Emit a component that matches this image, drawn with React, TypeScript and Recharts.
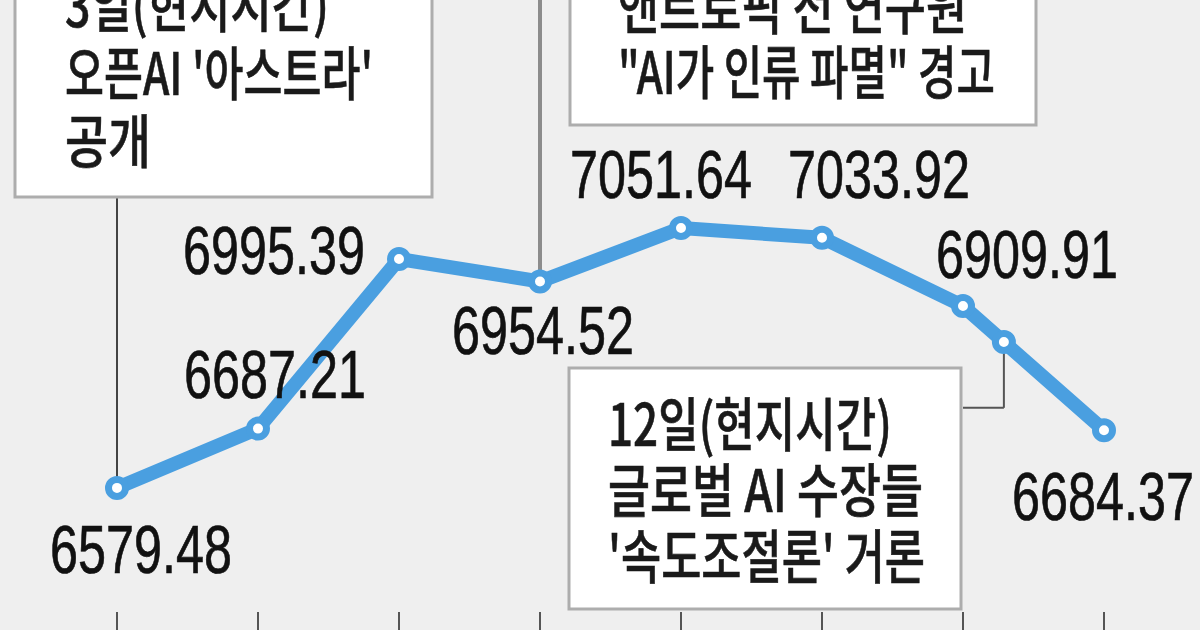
import { LineChart, Line, XAxis, YAxis, ReferenceLine, ReferenceDot } from 'recharts';

// trading days shown on the chart (x ticks, labels cropped in the original)
const dayIndex = [0, 1, 2, 3, 4, 5, 6, 7];
// closing values of the index
const indexValues = [6579.48, 6687.21, 6995.39, 6954.52, 7051.64, 7033.92, 6909.91, 6684.37];

// event notes
const noteAstra = ['3일(현지시간)', "오픈AI '아스트라'", '공개'];
const noteAnthropic = ['앤트로픽 전 연구원', '"AI가 인류 파멸" 경고'];
const noteSummit = ['12일(현지시간)', '글로벌 AI 수장들', "'속도조절론' 거론"];

// the 12th falls between the 7th and 8th points of the line
const astraDay = 0;
const anthropicDay = 3;
const summitFrom = 6;
const summitShare = 0.29;

const BLUE = '#4a9fe0';
const Y_DOMAIN: [number, number] = [6354, 7466];
const KR_FONT = "'Noto Sans CJK KR', 'Noto Sans', sans-serif";
const NUM_FONT = "'Liberation Sans Narrow', 'Liberation Sans', Arial, sans-serif";

// label placement [dx, dy] from its point (left edge, baseline)
const LABEL_OFFSETS = [
  [-67, 85], [-74, -31], [-216, 15], [-88, 73],
  [-111, -30], [-34, -40], [-27, -28], [-92, 90],
];

const rows = dayIndex.map((day, i) => ({ day, value: indexValues[i] }));

const summitX = summitFrom + summitShare;
const summitY =
  indexValues[summitFrom] + summitShare * (indexValues[summitFrom + 1] - indexValues[summitFrom]);
const bracketY = 6725;

const renderValueLabel = (props: any) => {
  const { x, y, value } = props;
  let index = props.index;
  if (index === undefined) index = indexValues.indexOf(Number(value));
  const [dx, dy] = LABEL_OFFSETS[index] ?? [-90, -30];
  return (
    <text
      key={`lbl-${index}`}
      x={x + dx}
      y={y + dy}
      textLength={182}
      lengthAdjust="spacingAndGlyphs"
      fontFamily={NUM_FONT}
      fontSize={68}
      fill="#111"
      stroke="#111"
      strokeWidth={0.7}
    >
      {Number(value).toFixed(2)}
    </text>
  );
};

// only the tick marks show, the date labels are cut off below the picture
const emptyTick = () => <g />;

type NoteProps = {
  lines: string[];
  box: { x: number; y: number; w: number; h: number };
  textX: number;
  baselines: number[];
  widths: number[];
};

const NoteBox = ({ lines, box, textX, baselines, widths }: NoteProps) => (
  <g>
    <rect x={box.x} y={box.y} width={box.w} height={box.h} fill="#fff" stroke="#adadad" strokeWidth={3} />
    {lines.map((line, i) => (
      <text
        key={line}
        x={textX}
        y={baselines[i]}
        textLength={widths[i]}
        lengthAdjust="spacingAndGlyphs"
        fontFamily={KR_FONT}
        fontSize={58}
        fontWeight={500}
        fill="#1a1a1a"
        stroke="#1a1a1a"
        strokeWidth={0.6}
      >
        {line}
      </text>
    ))}
  </g>
);

const App = () => {
  return (
    <div
      style={{
        position: 'absolute',
        left: 0,
        top: 0,
        width: 1200,
        height: 630,
        background: '#efefef',
        overflow: 'hidden',
      }}
    >
      <LineChart width={1200} height={630} data={rows} margin={{ top: 0, right: 96, bottom: 0, left: 117 }}>
        <XAxis
          type="number"
          dataKey="day"
          domain={[0, 7]}
          ticks={dayIndex}
          interval={0}
          height={18}
          tickSize={18}
          axisLine={false}
          tick={emptyTick}
          tickLine={{ stroke: '#555', strokeWidth: 2 }}
        />
        <YAxis hide type="number" domain={Y_DOMAIN} />
        <ReferenceLine
          segment={[{ x: astraDay, y: indexValues[astraDay] }, { x: astraDay, y: Y_DOMAIN[1] }]}
          stroke="#444"
          strokeWidth={2}
        />
        <ReferenceLine
          segment={[{ x: anthropicDay, y: indexValues[anthropicDay] }, { x: anthropicDay, y: Y_DOMAIN[1] }]}
          stroke="#8c8c8c"
          strokeWidth={4}
        />
        <ReferenceLine
          segment={[{ x: summitX, y: summitY }, { x: summitX, y: bracketY }]}
          stroke="#555"
          strokeWidth={2}
        />
        <ReferenceLine
          segment={[{ x: summitX, y: bracketY }, { x: summitFrom, y: bracketY }]}
          stroke="#555"
          strokeWidth={2}
        />
        <Line
          type="linear"
          dataKey="value"
          stroke={BLUE}
          strokeWidth={14}
          strokeLinejoin="round"
          dot={{ r: 8.5, fill: '#fff', stroke: BLUE, strokeWidth: 7 }}
          activeDot={false}
          label={renderValueLabel}
          isAnimationActive={false}
        />
        <ReferenceDot x={summitX} y={summitY} r={8.5} fill="#fff" stroke={BLUE} strokeWidth={7} />
      </LineChart>
      <svg
        width={1200}
        height={630}
        style={{ position: 'absolute', left: 0, top: 0, pointerEvents: 'none' }}
      >
        <NoteBox
          lines={noteAstra}
          box={{ x: 15, y: -10, w: 417, h: 207 }}
          textX={65}
          baselines={[27, 95, 163]}
          widths={[264, 308, 86]}
        />
        <NoteBox
          lines={noteAnthropic}
          box={{ x: 570, y: -10, w: 466, h: 135 }}
          textX={618}
          baselines={[29, 94]}
          widths={[349, 377]}
        />
        <NoteBox
          lines={noteSummit}
          box={{ x: 569, y: 368, w: 392, h: 241 }}
          textX={608}
          baselines={[446, 512, 578]}
          widths={[284, 315, 317]}
        />
      </svg>
    </div>
  );
};

export default App;
